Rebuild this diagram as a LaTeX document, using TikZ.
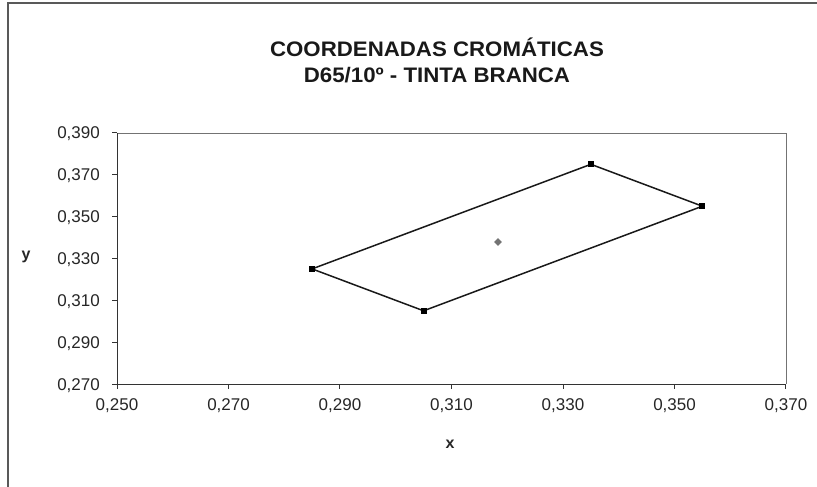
\documentclass[tikz,border=0pt]{standalone}
\usepackage{fontspec}
\usetikzlibrary{shapes.geometric}
\setmainfont{Liberation Sans}
\newfontfamily\titlefont[FakeStretch=1.06]{Liberation Sans}
\begin{document}
\begin{tikzpicture}[x=1pt,y=-1pt,
  frameline/.style={draw=black!65,line width=1.1pt},
  axisline/.style={draw=black!80,line width=1pt},
  plotborder/.style={draw=black!55,line width=0.9pt},
  ticklab/.style={font=\fontsize{17}{20}\selectfont,inner sep=0pt,text=black!85},
  axlab/.style={font=\fontsize{16}{18}\selectfont\bfseries,inner sep=0pt,text=black!85},
  titlelab/.style={font=\titlefont\fontsize{21}{24}\selectfont\bfseries,inner sep=0pt,text=black!90},
  series/.style={draw=black!90,line width=1.5pt,line join=miter},
  sqmark/.style={rectangle,fill=black,minimum size=6pt,inner sep=0pt},
  dmark/.style={diamond,fill=black!55,minimum size=8pt,inner sep=0pt}]
\useasboundingbox (0,0) rectangle (817,487);
% outer chart frame
\draw[frameline] (8,487) -- (8,3) -- (817,3);
% title
\node[titlelab,anchor=base] (t1) at (437,57) {COORDENADAS CROMÁTICAS};
\node[titlelab,anchor=base] (t2) at (437,83) {D65/10º - TINTA BRANCA};
% plot area border (top and right)
\draw[plotborder] (117,133) -- (786,133) -- (786,384);
% axes
\draw[axisline] (117,133) -- (117,384) -- (786,384);
% y ticks and labels
\foreach \v/\lab in {0.270/{0,270},0.290/{0,290},0.310/{0,310},0.330/{0,330},0.350/{0,350},0.370/{0,370},0.390/{0,390}}{
  \pgfmathsetmacro{\yy}{384-(\v-0.27)*2092}
  \draw[axisline] (112,\yy) -- (117,\yy);
  \node[ticklab,anchor=base east] at (100,\yy+6) {\lab};
}
% x ticks and labels
\foreach \v/\lab in {0.250/{0,250},0.270/{0,270},0.290/{0,290},0.310/{0,310},0.330/{0,330},0.350/{0,350},0.370/{0,370}}{
  \pgfmathsetmacro{\xx}{117+(\v-0.25)*5575}
  \draw[axisline] (\xx,384) -- (\xx,389);
  \node[ticklab,anchor=base] at (\xx,410) {\lab};
}
% axis titles
\node[axlab,anchor=base] (xl) at (450,448) {x};
\node[axlab,anchor=base] (yl) at (26,259) {y};
% data
\coordinate (A) at (312.1,268.9);
\coordinate (B) at (423.6,310.8);
\coordinate (C) at (702.4,206.2);
\coordinate (D) at (590.9,164.3);
\draw[series] (A) -- (D) -- (C) -- (B) -- cycle;
\foreach \p in {A,B,C,D}{\node[sqmark] at (\p) {};}
\node[dmark] (E) at (498,242) {};
\end{tikzpicture}
\end{document}
